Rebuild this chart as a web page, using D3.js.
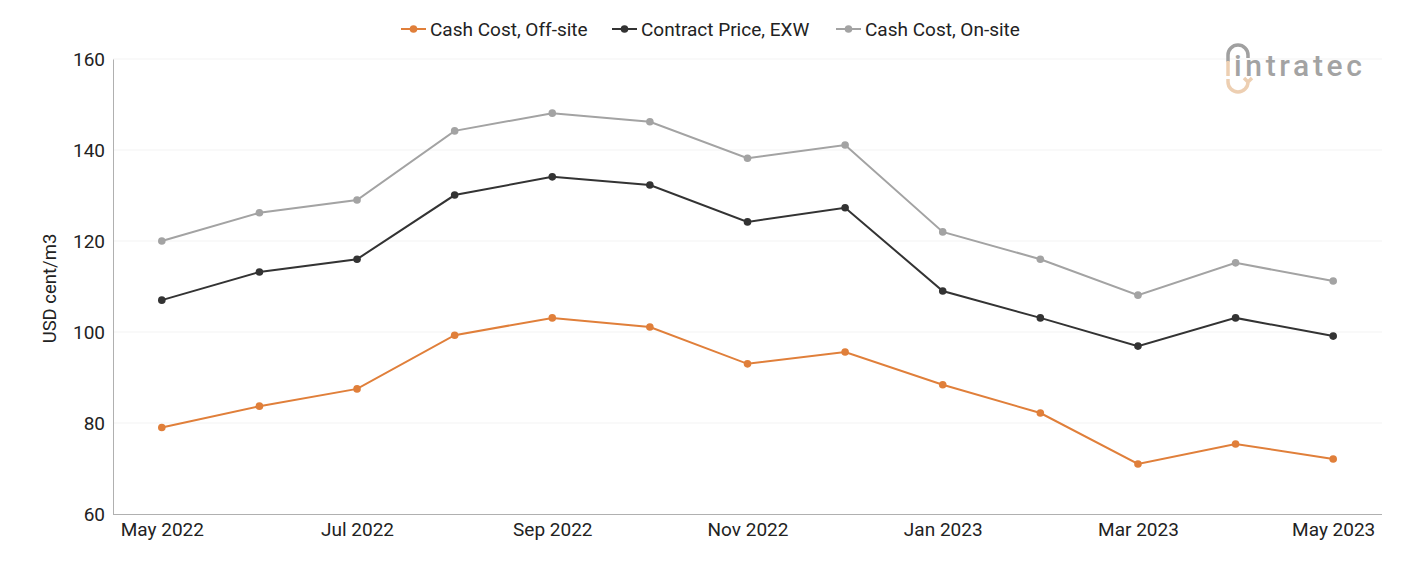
<!DOCTYPE html>
<html>
<head>
<meta charset="utf-8">
<script src="https://cdn.jsdelivr.net/npm/d3@7"></script>
<style>
	body { margin: 0; background: #fff; font-family: Roboto, "Noto Sans", sans-serif; }
</style>
</head>
<body>
<div id="viz-container"></div>
<script>
var months = ['May 2022', 'Jun 2022', 'Jul 2022', 'Aug 2022', 'Sep 2022', 'Oct 2022', 'Nov 2022',
	'Dec 2022', 'Jan 2023', 'Feb 2023', 'Mar 2023', 'Apr 2023', 'May 2023'];
var tickLabels = ['May 2022', 'Jul 2022', 'Sep 2022', 'Nov 2022', 'Jan 2023', 'Mar 2023', 'May 2023'];
var yTicks = [60, 80, 100, 120, 140, 160];

var offSite = [79, 83.7, 87.5, 99.3, 103.1, 101.1, 93.0, 95.6, 88.4, 82.2, 71.0, 75.4, 72.1];
var contract = [107, 113.2, 116, 130.1, 134.1, 132.3, 124.2, 127.3, 109, 103.1, 96.9, 103.1, 99.1];
var onSite = [120, 126.2, 129, 144.2, 148.1, 146.2, 138.2, 141.1, 122, 116, 108.1, 115.2, 111.2];

var series = [
	{name: 'Cash Cost, Off-site', values: offSite, color: '#e07f3a'},
	{name: 'Contract Price, EXW', values: contract, color: '#333333'},
	{name: 'Cash Cost, On-site', values: onSite, color: '#a3a3a3'}
];

var FONT = 'Roboto, sans-serif';

var svg = d3.select('#viz-container').append('svg')
	.attr('width', 1401)
	.attr('height', 561);

var margin = {top: 59, right: 19, bottom: 47, left: 113},
    width = 1401 - margin.left - margin.right,
    height = 561 - margin.top - margin.bottom;

var g = svg.append('g').attr('transform', 'translate(' + margin.left + ',' + margin.top + ')');

var x = d3.scalePoint()
	.domain(months)
	.range([0, width])
	.padding(0.5);

var y = d3.scaleLinear()
	.domain([60, 160])
	.range([height, 0]);

// grid
g.append('g').selectAll('line')
	.data(yTicks.slice(1))
	.enter().append('line')
	.attr('x1', 0).attr('x2', width)
	.attr('y1', function(d) {return y(d);})
	.attr('y2', function(d) {return y(d);})
	.attr('stroke', '#f3f3f3')
	.attr('stroke-width', 1);

// y axis
var yAxis = g.append('g')
	.call(d3.axisLeft(y).tickValues(yTicks).tickSize(0).tickPadding(8));
yAxis.select('.domain').attr('stroke', '#b0b0b0');
yAxis.selectAll('text')
	.attr('font-family', FONT)
	.attr('font-size', 19)
	.attr('fill', '#222');

// x axis
var xAxis = g.append('g')
	.attr('transform', 'translate(0,' + height + ')')
	.call(d3.axisBottom(x).tickValues(tickLabels).tickSize(0).tickPadding(9));
xAxis.select('.domain').attr('stroke', '#b0b0b0').attr('d', 'M0,0.5H' + width);
xAxis.selectAll('text')
	.attr('font-family', FONT)
	.attr('font-size', 19)
	.attr('fill', '#222');

// y title
svg.append('text')
	.attr('transform', 'translate(56,' + (margin.top + height / 2 + 2) + ') rotate(-90)')
	.attr('text-anchor', 'middle')
	.attr('font-family', FONT)
	.attr('font-size', 18.5)
	.attr('fill', '#222')
	.text('USD cent/m3');

var line = d3.line()
	.x(function(d, i) {return x(months[i]);})
	.y(function(d) {return y(d);});

var sg = g.selectAll('.series')
	.data(series)
	.enter().append('g')
	.attr('class', 'series');

sg.append('path')
	.attr('d', function(d) {return line(d.values);})
	.attr('fill', 'none')
	.attr('stroke', function(d) {return d.color;})
	.attr('stroke-width', 2);

sg.selectAll('circle')
	.data(function(d) {return d.values.map(function(v) {return {v: v, color: d.color};});})
	.enter().append('circle')
	.attr('cx', function(d, i) {return x(months[i]);})
	.attr('cy', function(d) {return y(d.v);})
	.attr('r', 3.8)
	.attr('fill', function(d) {return d.color;});

// legend
var legendX = [401, 612, 836];
var lg = svg.append('g').selectAll('g')
	.data(series)
	.enter().append('g')
	.attr('transform', function(d, i) {return 'translate(' + legendX[i] + ',29)';});
lg.append('line')
	.attr('x1', 0).attr('x2', 25)
	.attr('stroke', function(d) {return d.color;})
	.attr('stroke-width', 2);
lg.append('circle')
	.attr('cx', 12.5).attr('r', 3.8)
	.attr('fill', function(d) {return d.color;});
lg.append('text')
	.attr('x', 29).attr('y', 6.5)
	.attr('font-family', FONT)
	.attr('font-size', 19)
	.attr('fill', '#222')
	.text(function(d) {return d.name;});

// logo
var logo = svg.append('g').attr('transform', 'translate(1222,44)');
logo.append('path')
	.attr('d', 'M6,18 L6,11 A10,10 0 0 1 26,11 L26,14')
	.attr('fill', 'none').attr('stroke', '#a0a0a0').attr('stroke-width', 3.5);
logo.append('rect')
	.attr('x', 4.25).attr('y', 17).attr('width', 3.5).attr('height', 15)
	.attr('fill', '#edcfb2');
logo.append('path')
	.attr('d', 'M6,35 L6,38 A10,10 0 0 0 26,38 M22,34 L26,38 L30,34')
	.attr('fill', 'none').attr('stroke', '#edcfb2').attr('stroke-width', 3.5);
logo.append('text')
	.attr('x', 12).attr('y', 32)
	.attr('font-family', FONT)
	.attr('font-size', 30)
	.attr('font-weight', 500)
	.attr('fill', '#a3a3a3')
	.attr('textLength', 128)
	.attr('lengthAdjust', 'spacing')
	.text('intratec');
</script>
</body>
</html>
